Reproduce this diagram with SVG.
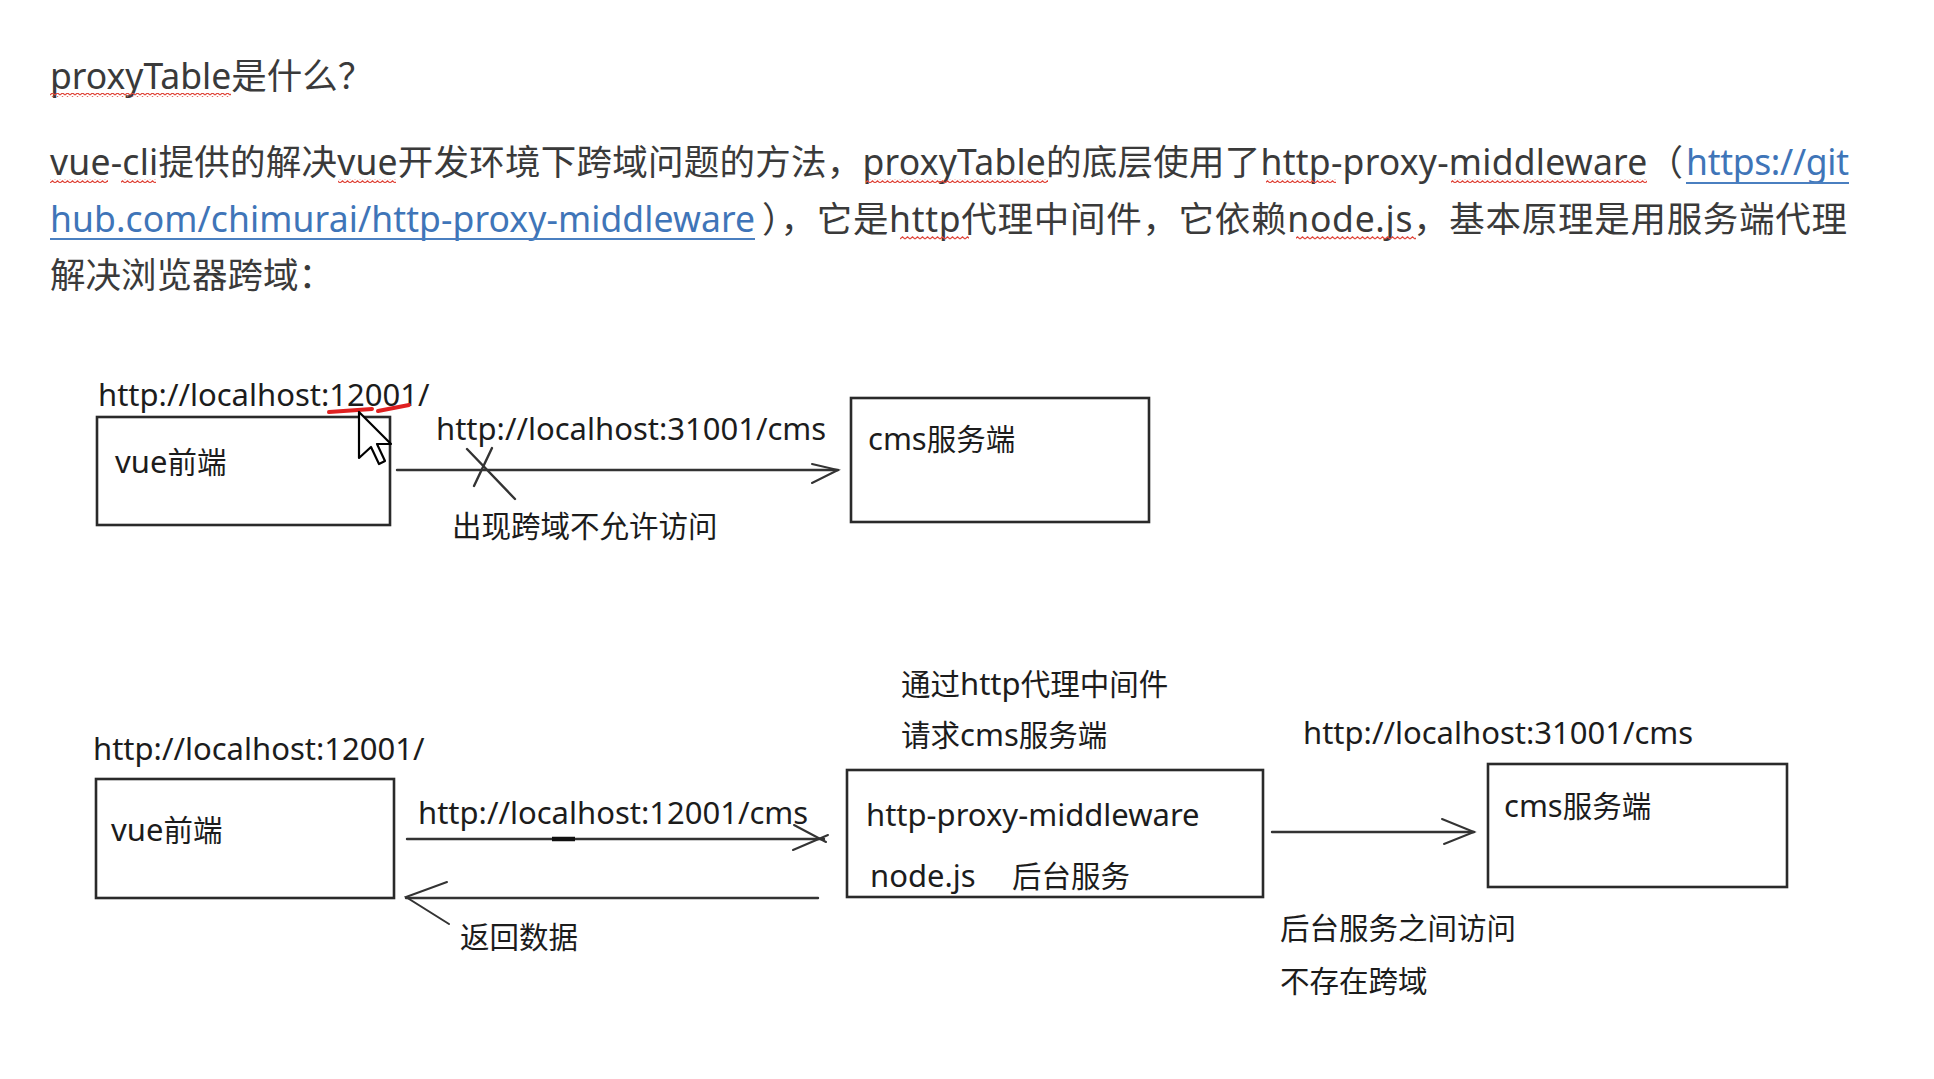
<svg xmlns="http://www.w3.org/2000/svg" width="1934" height="1079" viewBox="0 0 1934 1079">
<defs>
<style>
.p{font-family:"Noto Sans","Noto Sans CJK SC",sans-serif;font-size:35.5px;fill:#3a3a3a}
.lk{fill:#3f75b8}
.d{font-family:"Noto Sans","Noto Sans CJK SC",sans-serif;font-size:31px;fill:#1c1c1c}
.c{font-size:29.5px}
.box{fill:#ffffff;stroke:#2a2a2a;stroke-width:2.6}
.ln{stroke:#333;stroke-width:2.4;fill:none;stroke-linecap:round}
.ah{stroke:#333;stroke-width:2;fill:none;stroke-linecap:round}
.ul{stroke:#4a7fc0;stroke-width:1.8}
</style>
<pattern id="wavy" x="0" y="0" width="5" height="4" patternUnits="userSpaceOnUse">
<path d="M0,3 L2.5,0.8 L5,3" stroke="#e0453a" stroke-width="1.2" fill="none"/>
</pattern>
</defs>
<rect width="1934" height="1079" fill="#ffffff"/>

<g id="header">
<text class="p" x="50" y="89">proxyTable是什么？</text>
<text class="p" x="50" y="175" textLength="1633" lengthAdjust="spacing">vue-cli提供的解决vue开发环境下跨域问题的方法，proxyTable的底层使用了http-proxy-middleware（</text>
<text class="p lk" x="1686" y="175" textLength="163" lengthAdjust="spacing">https://git</text>
<text class="p lk" x="50" y="232" textLength="705" lengthAdjust="spacing">hub.com/chimurai/http-proxy-middleware</text>
<text class="p" x="762" y="232" textLength="1085" lengthAdjust="spacing">），它是http代理中间件，它依赖node.js，基本原理是用服务端代理</text>
<text class="p" x="50" y="288">解决浏览器跨域：</text>
<line class="ul" x1="1686" y1="183" x2="1849" y2="183"/>
<line class="ul" x1="50" y1="239" x2="755" y2="239"/>
<g id="spellcheck">
<rect x="50" y="93" width="181" height="4" fill="url(#wavy)"/>
<rect x="50" y="179" width="58" height="4" fill="url(#wavy)"/>
<rect x="121" y="179" width="35" height="4" fill="url(#wavy)"/>
<rect x="338" y="179" width="58" height="4" fill="url(#wavy)"/>
<rect x="866" y="179" width="182" height="4" fill="url(#wavy)"/>
<rect x="1266" y="179" width="70" height="4" fill="url(#wavy)"/>
<rect x="1451" y="179" width="196" height="4" fill="url(#wavy)"/>
<rect x="900" y="236" width="69" height="4" fill="url(#wavy)"/>
<rect x="1296" y="236" width="120" height="4" fill="url(#wavy)"/>
</g>
</g>

<g id="vue1">
<rect class="box" x="97" y="417" width="293" height="108"/>
<text class="d" x="115" y="473">vue<tspan class="c">前端</tspan></text>
</g>
<g id="cms1">
<rect class="box" x="851" y="398" width="298" height="124"/>
<text class="d" x="868" y="450">cms<tspan class="c">服务端</tspan></text>
</g>
<g id="vue2">
<rect class="box" x="96" y="779" width="298" height="119"/>
<text class="d" x="111" y="841">vue<tspan class="c">前端</tspan></text>
</g>
<g id="proxy">
<rect class="box" x="847" y="770" width="416" height="127"/>
<text class="d" x="866" y="826">http-proxy-middleware</text>
<text class="d" x="870" y="887">node.js</text>
<text class="d c" x="1012" y="887">后台服务</text>
</g>
<g id="cms2">
<rect class="box" x="1488" y="764" width="299" height="123"/>
<text class="d" x="1504" y="817">cms<tspan class="c">服务端</tspan></text>
</g>

<g id="connectors">
<line class="ln" x1="397" y1="470" x2="838" y2="470"/>
<path class="ah" d="M812,464 L838,470 L812,483"/>
<line class="ln" x1="467" y1="449" x2="515" y2="499"/>
<line class="ln" x1="492" y1="448" x2="474" y2="486"/>

<line class="ln" x1="407" y1="839" x2="824" y2="839"/>
<line x1="552" y1="839" x2="575" y2="839" stroke="#111" stroke-width="4.5"/>
<line class="ah" x1="794" y1="825" x2="826" y2="842"/>
<line class="ah" x1="793" y1="850" x2="828" y2="835"/>

<line class="ln" x1="406" y1="898" x2="818" y2="898"/>
<path class="ah" d="M447,882 L406,897 L449,924"/>

<line class="ln" x1="1272" y1="832" x2="1474" y2="832"/>
<path class="ah" d="M1442,819 L1474,832 L1444,844"/>
</g>

<g id="labels">
<text class="d" x="98" y="406">http://localhost:12001/</text>
<text class="d" x="436" y="440">http://localhost:31001/cms</text>
<text class="d c" x="452" y="537">出现跨域不允许访问</text>
<text class="d" x="901" y="695"><tspan class="c">通过</tspan>http<tspan class="c">代理中间件</tspan></text>
<text class="d" x="901" y="746"><tspan class="c">请求</tspan>cms<tspan class="c">服务端</tspan></text>
<text class="d" x="93" y="760">http://localhost:12001/</text>
<text class="d" x="418" y="824">http://localhost:12001/cms</text>
<text class="d c" x="460" y="948">返回数据</text>
<text class="d" x="1303" y="744">http://localhost:31001/cms</text>
<text class="d c" x="1280" y="939">后台服务之间访问</text>
<text class="d c" x="1280" y="992">不存在跨域</text>
</g>

<g id="annotation">
<path d="M329,412 L372,409" stroke="#e02020" stroke-width="4" stroke-linecap="round" fill="none"/>
<path d="M378,411 L409,405" stroke="#e02020" stroke-width="4" stroke-linecap="round" fill="none"/>
<path d="M359,412 L359,458 L371,447 L379,464 L385,461 L377,444 L391,444 Z" fill="#ffffff" stroke="#000" stroke-width="2.2" stroke-linejoin="round"/>
</g>
</svg>
